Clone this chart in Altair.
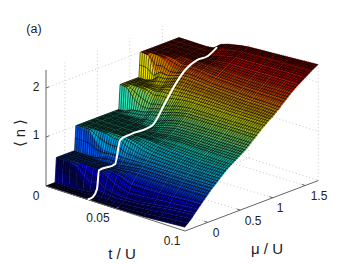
import altair as alt
import pandas as pd

# Surface readings: filling n by chemical potential (columns) and hopping (rows)
mu_vals = [-.35,-.30,-.25,-.21,-.19,-.15,-.10,-.05,0,.05,.09,.11,.15,.2,.3,.4,.5,.6,.7,.77,.79,.85,.9,.95,1.0,1.08,1.10,1.15,1.2,1.3,1.4,1.5,1.6,1.7]
t_vals = [0,.005,.01,.015,.02,.025,.03,.035,.04,.045,.05,.06,.07,.08,.09,.1]
n_rows = [
 [0,0,0,0,.5,.5,.5,.5,.5,.5,.5,1,1,1,1,1,1,1,1,1,1.5,1.5,1.5,1.5,1.5,1.5,2,2,2,2,2,2,2,2],
 [0,0,0,0,.5,.5,.5,.5,.5,.5,.5,1,1,1,1,1,1,1,1,1.02,1.48,1.5,1.5,1.5,1.5,1.5,1.98,2,2,2,2,2,2,2],
 [0,0,0,0,.5,.5,.5,.5,.5,.5,.5,.98,1,1,1,1,1,1,1,1.1,1.3,1.5,1.5,1.5,1.5,1.55,1.7,2,2,2,2,2,2,2],
 [0,0,0,.01,.45,.5,.5,.5,.5,.5,.52,.8,1,1,1,1,1,1,1.02,1.12,1.2,1.45,1.5,1.5,1.52,1.7,1.78,1.95,2,2,2,2,2,2],
 [0,0,0,.02,.3,.5,.5,.5,.5,.5,.58,.7,.98,1,1,1,1,1,1.03,1.15,1.19,1.35,1.47,1.5,1.55,1.7,1.74,1.86,1.98,2,2,2,2,2],
 [0,0,.01,.04,.2,.5,.5,.5,.5,.51,.62,.7,.93,1,1,1,1,1.01,1.1,1.2,1.24,1.38,1.5,1.57,1.62,1.74,1.77,1.85,1.93,2,2,2,2,2.02],
 [0,0,.03,.13,.3,.5,.5,.5,.5,.51,.62,.72,.93,1,1,1,1,1.01,1.1,1.24,1.27,1.39,1.5,1.6,1.68,1.8,1.83,1.9,1.95,2,2,2,2.07,2.14],
 [0,0,.04,.12,.2,.42,.5,.5,.51,.56,.64,.69,.82,.98,1,1,1.01,1.06,1.17,1.28,1.31,1.42,1.52,1.61,1.69,1.81,1.84,1.9,1.95,2,2.01,2.05,2.13,2.19],
 [0,.01,.04,.1,.16,.32,.48,.5,.52,.58,.65,.69,.79,.93,1,1,1.03,1.11,1.23,1.33,1.36,1.46,1.54,1.62,1.69,1.8,1.83,1.89,1.94,2,2.04,2.1,2.17,2.22],
 [0,.01,.04,.09,.14,.26,.42,.5,.54,.6,.66,.69,.77,.88,.99,1.01,1.05,1.15,1.27,1.36,1.39,1.48,1.55,1.62,1.69,1.79,1.82,1.87,1.92,2,2.06,2.13,2.2,2.25],
 [0,.02,.05,.1,.13,.22,.37,.47,.55,.62,.67,.7,.76,.85,.97,1.02,1.08,1.18,1.3,1.39,1.41,1.49,1.55,1.62,1.69,1.78,1.8,1.86,1.91,2,2.08,2.16,2.22,2.27],
 [.01,.03,.07,.12,.15,.24,.37,.47,.55,.62,.67,.7,.76,.83,.95,1.04,1.1,1.19,1.31,1.39,1.42,1.49,1.55,1.62,1.68,1.77,1.79,1.85,1.9,2,2.08,2.17,2.24,2.29],
 [.02,.05,.1,.16,.19,.27,.38,.47,.55,.62,.67,.7,.75,.82,.94,1.03,1.1,1.2,1.31,1.4,1.42,1.49,1.55,1.61,1.67,1.76,1.78,1.84,1.89,2,2.09,2.18,2.26,2.31],
 [.04,.08,.14,.2,.23,.3,.39,.47,.55,.62,.67,.7,.75,.81,.93,1.03,1.1,1.2,1.32,1.4,1.42,1.49,1.55,1.61,1.66,1.75,1.77,1.83,1.89,2,2.1,2.19,2.27,2.33],
 [.06,.11,.17,.23,.26,.32,.41,.48,.55,.63,.67,.7,.75,.81,.93,1.02,1.11,1.2,1.32,1.4,1.43,1.5,1.55,1.61,1.66,1.75,1.77,1.83,1.89,2.01,2.11,2.2,2.28,2.35],
 [.08,.14,.2,.26,.29,.35,.42,.49,.56,.63,.68,.7,.75,.81,.93,1.02,1.11,1.2,1.32,1.4,1.43,1.5,1.55,1.61,1.65,1.74,1.76,1.83,1.89,2.01,2.11,2.2,2.29,2.37],
]
# White cut across the surface at t/U = 0.03
line_t = 0.03
line_mu = [-.35,-.27,-.207,-.176,.07,.15,.3,.65,.84,.99,1.15,1.33,1.5,1.64]
line_n = [0,.01,.14,.51,.51,.96,1.0,1.02,1.37,1.66,1.89,2.0,2.0,2.11]

mu_ticks = [0,.5,1,1.5]
mu_labels = ["0","0.5","1","1.5"]
t_ticks = [.05]
z_ticks = [1,2]
T0, T1, M0, M1, Z1 = 0, .1, -.35, 1.7, 2.37
MESH_T, MESH_MU = .0015, .03
GRID_SHIFT = -.06


def P(t, m, z):
    return (round(38 + 1390 * t + 65 * (m - M0), 2), round(178 + 450 * t - 24.6 * (m - M0) - 49 * z, 2))


def jet(v):
    f = lambda a: max(0.0, min(1.0, a))
    return (f(min(4*v-1.5, -4*v+4.5)), f(min(4*v-.5, -4*v+3.5)), f(min(4*v+.5, -4*v+2.5)))


def area(q):
    s = 0
    for i in range(4):
        a, b = q[i], q[(i+1) % 4]
        s += a[0]*b[1]-b[0]*a[1]
    return abs(s)/2


mesh_t = [k*MESH_T for k in range(int((T1-T0)/MESH_T)+1)]
mesh_m = [M0+k*MESH_MU for k in range(int((M1-M0)/MESH_MU)+1)]

features = []
for i in range(len(t_vals)-1):
    t0, t1 = t_vals[i], t_vals[i+1]
    for j in range(len(mu_vals)-2, -1, -1):
        m0, m1 = mu_vals[j], mu_vals[j+1]
        a, b, c_, d = n_rows[i][j], n_rows[i][j+1], n_rows[i+1][j+1], n_rows[i+1][j]
        q = [P(t0, m0, a), P(t0, m1, b), P(t1, m1, c_), P(t1, m0, d)]
        flat = area([P(t0, m0, 0), P(t0, m1, 0), P(t1, m1, 0), P(t1, m0, 0)])
        r = max(1.0, area(q)/flat)
        shade = .95 - .55/r**.8
        col = jet(min(a, b, c_, d)/Z1)
        hexc = "#%02x%02x%02x" % tuple(int(255*shade*x) for x in col)
        features.append({"type": "Feature", "properties": {"c": hexc, "s": hexc, "w": .3},
                         "geometry": {"type": "Polygon", "coordinates": [[list(p) for p in q+[q[0]]]]}})
        lines = []
        for t in mesh_t:
            if t0 <= t < t1:
                u = (t-t0)/(t1-t0)
                lines.append([list(P(t, m0, a+(d-a)*u)), list(P(t, m1, b+(c_-b)*u))])
        for m in mesh_m:
            if m0 <= m < m1:
                v = (m-m0)/(m1-m0)
                lines.append([list(P(t0, m, a+(b-a)*v)), list(P(t1, m, d+(c_-d)*v))])
        if lines:
            features.append({"type": "Feature", "properties": {"c": "none", "s": "#000000", "w": .6},
                             "geometry": {"type": "MultiLineString", "coordinates": lines}})


def seg(rows, sid, a, b):
    for p in (a, b):
        x, y = P(*p)
        rows.append({"id": sid, "x": x, "y": y})


grid = []
sid = 0
for z in z_ticks:
    seg(grid, sid, (T0, M0, z), (T0, M1, z)); sid += 1
    seg(grid, sid, (T0, M1, z), (T1, M1, z)); sid += 1
for m in mu_ticks:
    seg(grid, sid, (T0, m+GRID_SHIFT, 0), (T0, m+GRID_SHIFT, Z1)); sid += 1
    seg(grid, sid, (T0, m+GRID_SHIFT, 0), (T1, m, 0)); sid += 1
for t in t_ticks:
    seg(grid, sid, (t, M1, 0), (t, M1, Z1)); sid += 1
    seg(grid, sid, (t, M0, 0), (t, M1, 0)); sid += 1
seg(grid, sid, (T1, M1, 0), (T1, M1, Z1)); sid += 1
seg(grid, sid, (T0, M1, 0), (T1, M1, 0)); sid += 1

axes = []
seg(axes, 0, (T0, M0, 0), (T0, M0, Z1))
seg(axes, 1, (T0, M0, 0), (T1, M0, 0))
seg(axes, 2, (T1, M0, 0), (T1, M1, 0))
sid = 3
for m in mu_ticks:
    seg(axes, sid, (T1, m, 0), (T1-.0025, m, 0)); sid += 1
for t in t_ticks:
    seg(axes, sid, (t, M0, 0), (t, M0+.05, 0)); sid += 1
for z in z_ticks:
    seg(axes, sid, (T0, M0, z), (T0, M0+.05, z)); sid += 1

white = [dict(zip("xy", P(line_t, m, n))) | {"o": k} for k, (m, n) in enumerate(zip(line_mu, line_n))]

texts = [
    {"s": "(a)", "x": 26, "y": 21, "size": 12.5, "angle": 0},
    {"s": "2", "x": 28, "y": 79, "size": 12, "angle": 0},
    {"s": "1", "x": 28, "y": 127, "size": 12, "angle": 0},
    {"s": "0", "x": 28, "y": 188, "size": 12, "angle": 0},
    {"s": "0.05", "x": 90, "y": 210, "size": 12, "angle": 0},
    {"s": "0.1", "x": 164, "y": 233, "size": 12, "angle": 0},
    {"s": "t / U", "x": 114, "y": 246, "size": 15, "angle": 0},
    {"s": "μ / U", "x": 259, "y": 241, "size": 15, "angle": 0},
    {"s": "⟨ n ⟩", "x": 12, "y": 125, "size": 15, "angle": 270},
]
for m, lab, x, y in zip(mu_ticks, mu_labels, [208, 245, 272, 311], [225, 213, 200, 188]):
    texts.append({"s": lab, "x": x, "y": y, "size": 12, "angle": 0})

X = alt.X("x:Q", scale=None, axis=None)
Y = alt.Y("y:Q", scale=None, axis=None)

grid_l = alt.Chart(pd.DataFrame(grid)).mark_line(color="#b8b8b8", strokeWidth=.8, strokeDash=[1, 2.5]).encode(x=X, y=Y, detail="id:N")
surf = alt.Chart(alt.InlineData(values=features)).mark_geoshape().encode(
    fill=alt.Fill("properties.c:N", scale=None), stroke=alt.Stroke("properties.s:N", scale=None),
    strokeWidth=alt.StrokeWidth("properties.w:Q", scale=None)
).project(type="identity", scale=1, translate=[0, 0])
axes_l = alt.Chart(pd.DataFrame(axes)).mark_line(color="#666666", strokeWidth=1).encode(x=X, y=Y, detail="id:N")
white_l = alt.Chart(pd.DataFrame(white)).mark_line(color="white", strokeWidth=2, interpolate="monotone").encode(
    x=X, y=Y, order="o:Q")
text_l = alt.Chart(pd.DataFrame(texts)).mark_text(font="Liberation Sans", color="#222222", align="center", baseline="middle").encode(
    x=X, y=Y, text="s:N", size=alt.Size("size:Q", scale=None), angle=alt.Angle("angle:Q", scale=None))

chart = alt.layer(grid_l, surf, axes_l, white_l, text_l).properties(
    width=330, height=254, padding=0, autosize=alt.AutoSizeParams(type="none"), background="white"
).configure_view(stroke=None)
chart.save("out.html", embed_options={"renderer": "svg", "actions": False})
